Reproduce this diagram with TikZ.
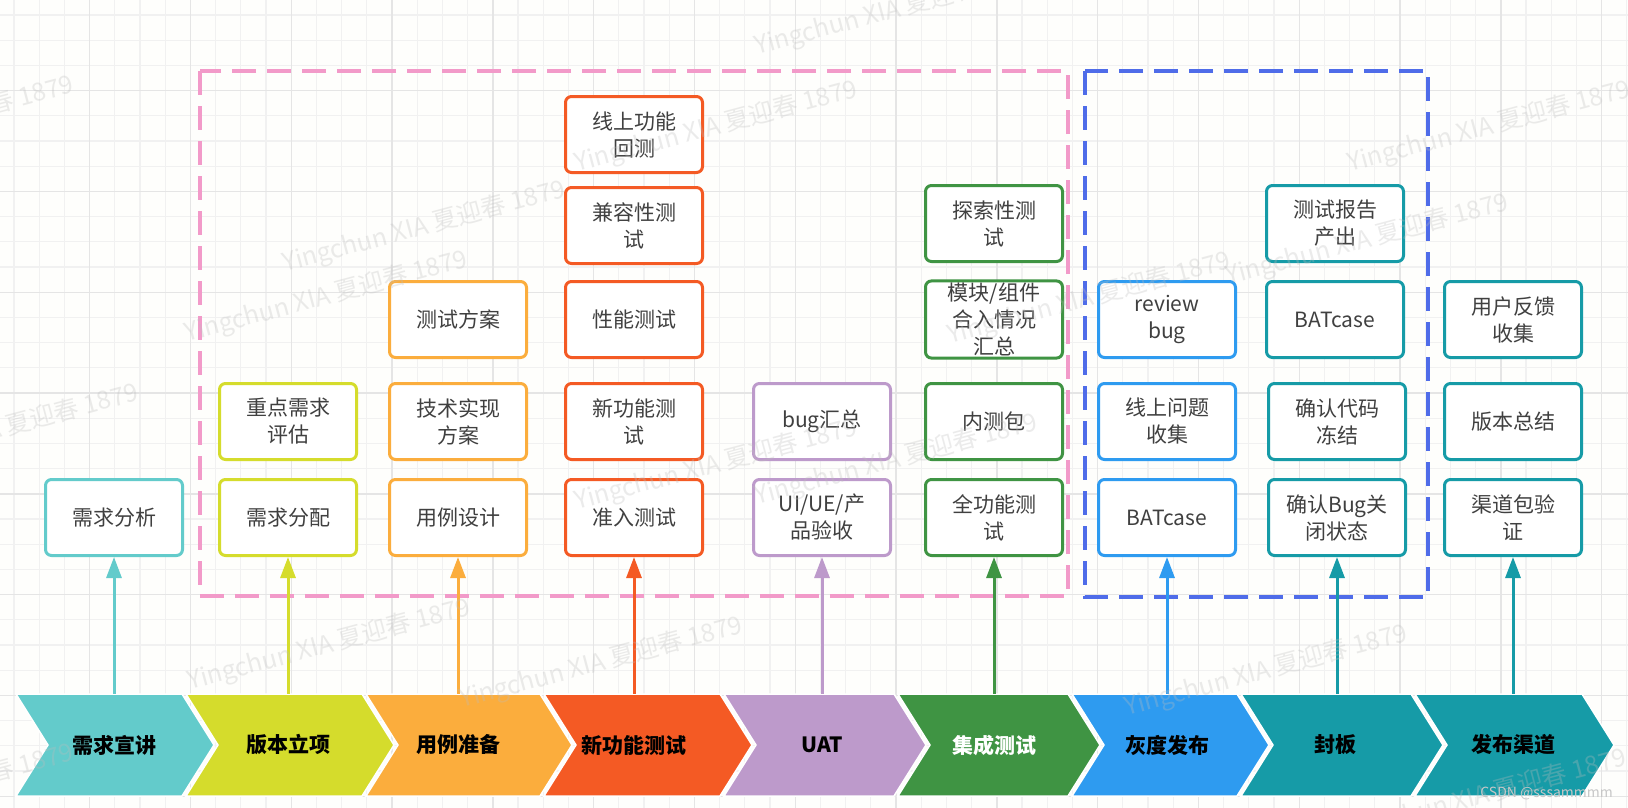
\documentclass[tikz,border=0pt]{standalone}
\usepackage{fontspec}
\setmainfont{Noto Sans CJK SC}
\usetikzlibrary{arrows.meta}

\definecolor{paper}{HTML}{FEFEFC}
\definecolor{gridlite}{HTML}{F1F1F1}
\definecolor{griddark}{HTML}{E5E5E5}
\definecolor{inktext}{HTML}{404040}
\definecolor{cyanA}{HTML}{63CBCB}
\definecolor{limeB}{HTML}{D5DC2C}
\definecolor{orangeC}{HTML}{FBAD3D}
\definecolor{redD}{HTML}{F45A24}
\definecolor{lilacE}{HTML}{BD9ACB}
\definecolor{greenF}{HTML}{3F9443}
\definecolor{blueG}{HTML}{2E9BF0}
\definecolor{tealH}{HTML}{169BA7}
\definecolor{pinkdash}{HTML}{F29AC9}
\definecolor{bluedash}{HTML}{4F6CE9}
\definecolor{markgray}{HTML}{BDBDBD}

\newcommand{\boxfont}{\fontsize{21}{27}\selectfont}
\newcommand{\chevfont}{\fontsize{21}{25}\selectfont\bfseries}
\newcommand{\markfont}{\fontsize{25}{25}\selectfont}

% stage chevron: name, left x, right x, text x, fill, text colour, label
\newcommand{\chev}[7]{%
  \fill[#5, draw=white, line width=1.5]
    (#2,694) -- (#3,694) -- (#3+32,745) -- (#3,796) -- (#2,796) -- (#2+32,745) -- cycle;
  \node[stagetext, text=#6] (#1) at (#4,745) {#7};
}

\begin{document}
\begin{tikzpicture}[x=1pt, y=-1pt,
  box/.style={draw=#1, fill=white, rounded corners=6, line width=3,
    minimum width=137, minimum height=76, inner sep=2, align=center,
    text=inktext, font=\boxfont},
  stagetext/.style={minimum height=102, minimum width=60, inner sep=0,
    font=\chevfont},
  uparrow/.style={draw=#1, line width=3, -{Triangle[width=15pt, length=21pt]}},
  grpframe/.style={draw=#1, line width=4, dash pattern=on 24pt off 11pt},
  wmark/.style={text=markgray, text opacity=0.3, font=\markfont,
    rotate=15, inner sep=0},
]
\useasboundingbox (0,0) rectangle (1628,808);
\fill[paper] (0,0) rectangle (1628,808);

% background grid
\foreach \i in {0,...,64} \draw[gridlite, line width=1.2] ({14+25.2*\i},0) -- ++(0,808);
\foreach \j in {0,...,31} \draw[gridlite, line width=1.2] (0,{15+25.2*\j}) -- ++(1628,0);
\foreach \i in {3,7,...,63} \draw[griddark, line width=1.4] ({14+25.2*\i},0) -- ++(0,808);
\foreach \j in {3,7,...,31} \draw[griddark, line width=1.4] (0,{15+25.2*\j}) -- ++(1628,0);

% group frames
\draw[grpframe=pinkdash] (200,71) rectangle (1068,596);
\draw[grpframe=bluedash] (1085,71) rectangle (1428,597);

% stage chevrons
\chev{s1}{16}{182}{114}{cyanA}{black}{需求宣讲}
\chev{s2}{186}{362}{288}{limeB}{black}{版本立项}
\chev{s3}{366}{540}{458}{orangeC}{black}{用例准备}
\chev{s4}{544}{720}{634}{redD}{black}{新功能测试}
\chev{s5}{724}{894}{822}{lilacE}{black}{UAT}
\chev{s6}{898}{1068}{994}{greenF}{white}{集成测试}
\chev{s7}{1072}{1237}{1167}{blueG}{black}{灰度发布}
\chev{s8}{1241}{1411}{1335}{tealH}{black}{封板}
\chev{s9}{1415}{1582}{1513}{tealH}{black}{发布渠道}

% task boxes, one column per stage
\node[box=cyanA] (a5) at (114,517.5) {需求分析};

\node[box=limeB] (b4) at (288,421.5) {重点需求\\评估};
\node[box=limeB] (b5) at (288,517.5) {需求分配};

\node[box=orangeC] (c3) at (458,319.5) {测试方案};
\node[box=orangeC] (c4) at (458,421.5) {技术实现\\方案};
\node[box=orangeC] (c5) at (458,517.5) {用例设计};

\node[box=redD] (d1) at (634,134.5) {线上功能\\回测};
\node[box=redD] (d2) at (634,225.5) {兼容性测\\试};
\node[box=redD] (d3) at (634,319.5) {性能测试};
\node[box=redD] (d4) at (634,421.5) {新功能测\\试};
\node[box=redD] (d5) at (634,517.5) {准入测试};

\node[box=lilacE] (e4) at (822,421.5) {bug汇总};
\node[box=lilacE] (e5) at (822,517.5) {UI/UE/产\\品验收};

\node[box=greenF] (f2) at (994,223.5) {探索性测\\试};
\node[box=greenF] (f3) at (994,319.5) {模块/组件\\合入情况\\汇总};
\node[box=greenF] (f4) at (994,421.5) {内测包};
\node[box=greenF] (f5) at (994,517.5) {全功能测\\试};

\node[box=blueG] (g3) at (1167,319.5) {review\\bug};
\node[box=blueG] (g4) at (1167,421.5) {线上问题\\收集};
\node[box=blueG] (g5) at (1167,517.5) {BATcase};

\node[box=tealH] (h2) at (1335,223.5) {测试报告\\产出};
\node[box=tealH] (h3) at (1335,319.5) {BATcase};
\node[box=tealH] (h4) at (1337,421.5) {确认代码\\冻结};
\node[box=tealH] (h5) at (1337,517.5) {确认Bug关\\闭状态};

\node[box=tealH] (i3) at (1513,319.5) {用户反馈\\收集};
\node[box=tealH] (i4) at (1513,421.5) {版本总结};
\node[box=tealH] (i5) at (1513,517.5) {渠道包验\\证};

% stage to task arrows
\draw[uparrow=cyanA]   (a5.south |- s1.north) -- (a5.south);
\draw[uparrow=limeB]   (b5.south |- s2.north) -- (b5.south);
\draw[uparrow=orangeC] (c5.south |- s3.north) -- (c5.south);
\draw[uparrow=redD]    (d5.south |- s4.north) -- (d5.south);
\draw[uparrow=lilacE]  (e5.south |- s5.north) -- (e5.south);
\draw[uparrow=greenF]  (f5.south |- s6.north) -- (f5.south);
\draw[uparrow=blueG]   (g5.south |- s7.north) -- (g5.south);
\draw[uparrow=tealH]   (h5.south |- s8.north) -- (h5.south);
\draw[uparrow=tealH]   (i5.south |- s9.north) -- (i5.south);

% author watermark
\foreach \px/\py in {757/55, 577/172, 285/272, 187/342, 577/510, 757/505,
                     1350/172, 1228/285, 462/708, 1127/716, 190/690}
  \node[wmark, anchor=base west] at (\px,\py) {Yingchun XIA 夏迎春 1879};
\foreach \px/\py in {75/92, 140/400, 1232/268, 75/760, 1628/765}
  \node[wmark, anchor=base east] at (\px,\py) {Yingchun XIA 夏迎春 1879};

\node[anchor=base east, inner sep=0, text=black!22, font=\fontsize{14}{14}\selectfont]
  (credit) at (1613,797) {CSDN @sssammmm};
\end{tikzpicture}
\end{document}
